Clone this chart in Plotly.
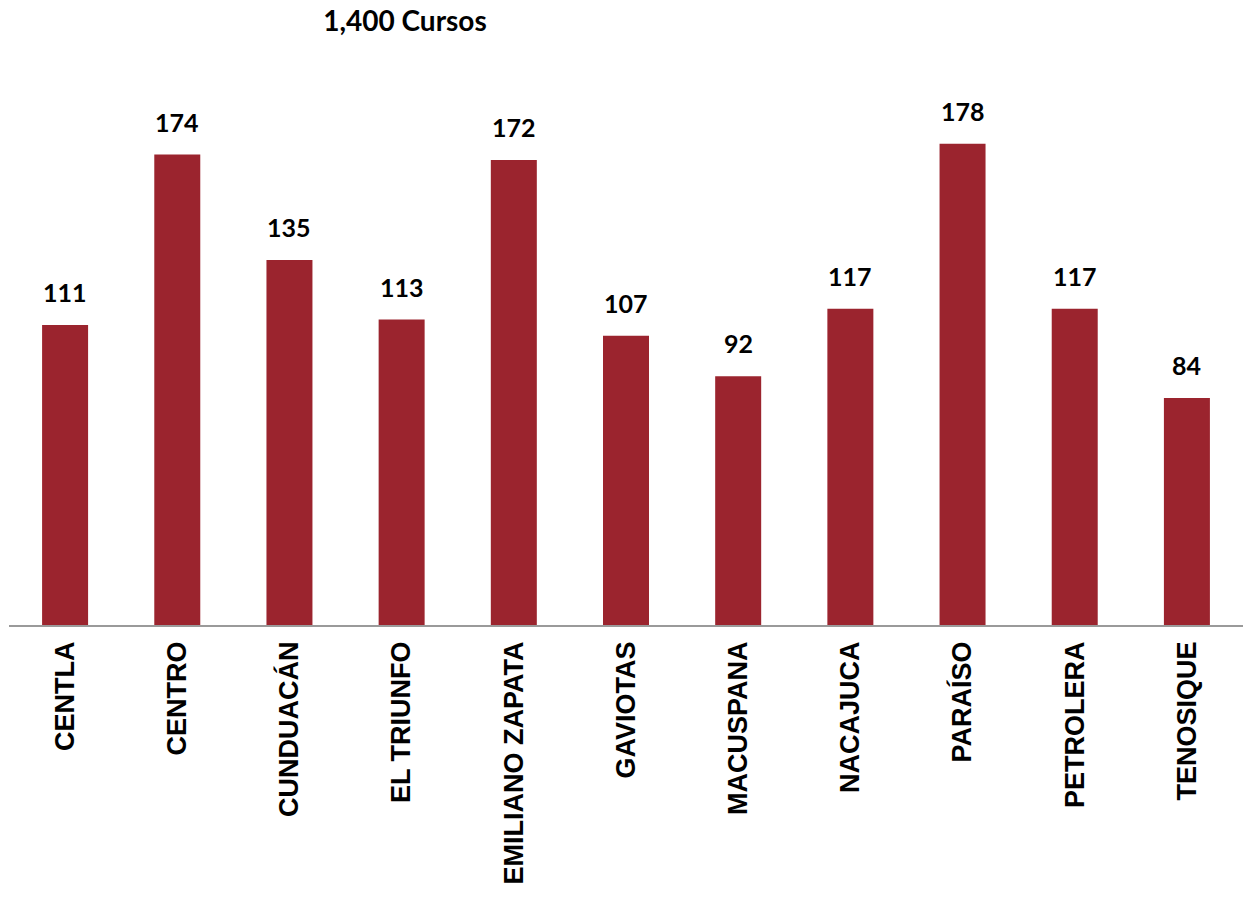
import plotly.graph_objects as go

categories = ["CENTLA", "CENTRO", "CUNDUACÁN", "EL TRIUNFO", "EMILIANO ZAPATA",
              "GAVIOTAS", "MACUSPANA", "NACAJUCA", "PARAÍSO", "PETROLERA", "TENOSIQUE"]
values = [111, 174, 135, 113, 172, 107, 92, 117, 178, 117, 84]
title_text = "1,400 Cursos"

BAR_COLOR = "#9B242E"
W, H = 1243, 899

fig = go.Figure()
fig.add_trace(go.Bar(
    x=categories, y=values,
    marker=dict(color=BAR_COLOR, line=dict(width=0)),
    hoverinfo="skip",
))

for c, v in zip(categories, values):
    fig.add_annotation(
        x=c, y=v, text=str(v), showarrow=False,
        yanchor="bottom", yshift=16,
        font=dict(family="Lato", size=25, color="#000000", weight="bold"),
    )

fig.update_layout(
    width=W, height=H,
    margin=dict(l=9, r=0, t=60, b=274),
    paper_bgcolor="white", plot_bgcolor="white",
    bargap=0.59,
    showlegend=False,
    title=dict(text=title_text, xref="container", yref="container",
               x=405 / W, xanchor="center", y=1 - 21 / H, yanchor="middle",
               font=dict(family="Lato", size=28, color="#000000", weight="bold")),
)
fig.update_xaxes(
    showline=True, linecolor="#9a9a9a", linewidth=1.5,
    ticks="", tickangle=-90, ticklabelstandoff=4,
    tickfont=dict(family="Liberation Sans", size=27, color="#000000", weight="bold"),
    showgrid=False,
)
fig.update_yaxes(
    range=[0, 209], visible=False, showgrid=False, zeroline=False,
)

fig.write_html(
    "out.html",
    config={"displayModeBar": False},
    post_script="document.body.style.margin='0';document.body.style.overflow='hidden';",
)
